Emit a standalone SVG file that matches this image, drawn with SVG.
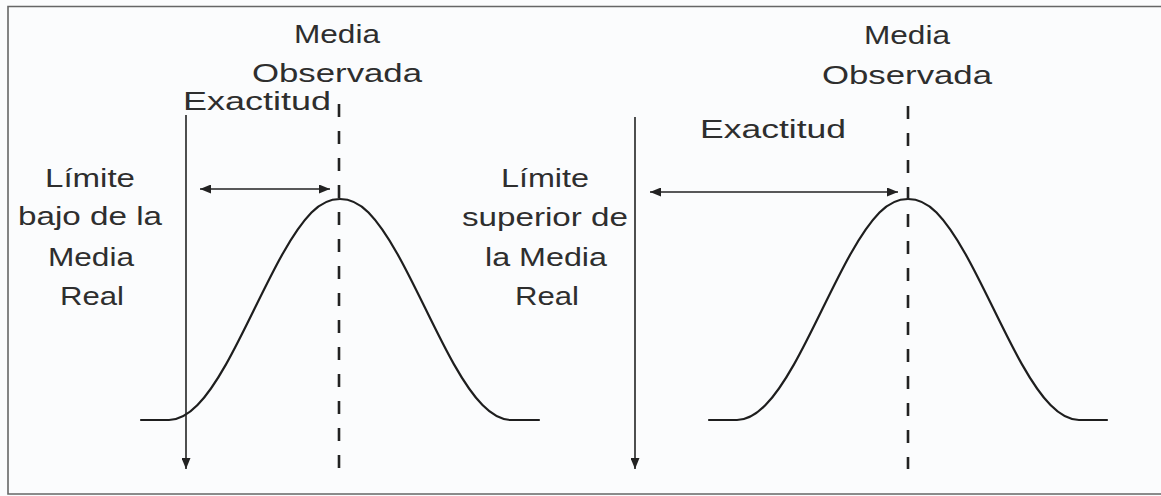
<svg xmlns="http://www.w3.org/2000/svg" xmlns:xlink="http://www.w3.org/1999/xlink" width="1161" height="496" viewBox="0 0 1161 496">
  <style>
    .txt { font-family: "Liberation Sans", Arial, sans-serif; font-size: 26px; fill: #2e2e2e; }
    .mid { text-anchor: middle; }
    .ln { stroke: #222; stroke-width: 1.6; fill: none; }
    .dash { stroke: #222; stroke-width: 2.6; fill: none; stroke-dasharray: 13 14; }
    .bell { stroke: #1e1e1e; stroke-width: 2.2; fill: none; stroke-linecap: round; }
    .frame { stroke: #666; stroke-width: 1.6; fill: none; }
  </style>
  <defs>
    <marker id="ah" viewBox="0 0 11 9" refX="11" refY="4.5" markerWidth="11" markerHeight="9" markerUnits="userSpaceOnUse" orient="auto-start-reverse">
      <path d="M0,0 L11,4.5 L0,9 z" fill="#222"/>
    </marker>
    <path id="bellshape" class="bell" d="M-199,420 L-171,420 C-161.5,420 -152,414.8 -142.5,405.1 C-133,395.4 -123.5,381.2 -114,364.4 C-104.5,347.6 -95,328.2 -85.5,308.8 C-76,289.4 -66.5,270 -57,253.2 C-47.5,236.4 -38,222.2 -28.5,212.5 C-19,202.8 -9.5,199 0,199 C9.5,199 19,202.8 28.5,212.5 C38,222.2 47.5,236.4 57,253.2 C66.5,270 76,289.4 85.5,308.8 C95,328.2 104.5,347.6 114,364.4 C123.5,381.2 133,395.4 142.5,405.1 C152,414.8 161.5,420 171,420 L199,420"/>
  </defs>
  <rect x="0" y="0" width="1161" height="496" fill="#fbfcfd"/>
  <g id="frame">
    <path class="frame" d="M1161,6.5 H8 V494 H1161"/>
  </g>
  <g id="curves">
    <use id="curve-left" xlink:href="#bellshape" href="#bellshape" x="340" y="0"/>
    <use id="curve-right" xlink:href="#bellshape" href="#bellshape" x="908" y="0"/>
  </g>
  <g id="connectors">
    <line class="ln" x1="186" y1="115" x2="186" y2="469" marker-end="url(#ah)"/>
    <line class="ln" x1="635" y1="117" x2="635" y2="469" marker-end="url(#ah)"/>
    <line class="ln" x1="200" y1="189" x2="330" y2="189" marker-start="url(#ah)" marker-end="url(#ah)"/>
    <line class="ln" x1="650" y1="192" x2="898" y2="192" marker-start="url(#ah)" marker-end="url(#ah)"/>
    <line class="dash" x1="339" y1="104" x2="339" y2="469"/>
    <line class="dash" x1="908" y1="106" x2="908" y2="469"/>
  </g>
  <g id="label-media-observada-left">
    <text class="txt mid" x="337" y="43" textLength="86" lengthAdjust="spacingAndGlyphs">Media</text>
    <text class="txt mid" x="337" y="82" textLength="170" lengthAdjust="spacingAndGlyphs">Observada</text>
  </g>
  <g id="label-exactitud-left">
    <text class="txt" x="183" y="110" textLength="148" lengthAdjust="spacingAndGlyphs">Exactitud</text>
  </g>
  <g id="label-limite-bajo">
    <text class="txt mid" x="90" y="187" textLength="90" lengthAdjust="spacingAndGlyphs">Límite</text>
    <text class="txt mid" x="90" y="225" textLength="144" lengthAdjust="spacingAndGlyphs">bajo de la</text>
    <text class="txt mid" x="91" y="266" textLength="86" lengthAdjust="spacingAndGlyphs">Media</text>
    <text class="txt mid" x="92" y="305" textLength="64" lengthAdjust="spacingAndGlyphs">Real</text>
  </g>
  <g id="label-media-observada-right">
    <text class="txt mid" x="907" y="44" textLength="86" lengthAdjust="spacingAndGlyphs">Media</text>
    <text class="txt mid" x="907" y="84" textLength="170" lengthAdjust="spacingAndGlyphs">Observada</text>
  </g>
  <g id="label-exactitud-right">
    <text class="txt" x="700" y="138" textLength="146" lengthAdjust="spacingAndGlyphs">Exactitud</text>
  </g>
  <g id="label-limite-superior">
    <text class="txt mid" x="545" y="187" textLength="88" lengthAdjust="spacingAndGlyphs">Límite</text>
    <text class="txt mid" x="545" y="226" textLength="166" lengthAdjust="spacingAndGlyphs">superior de</text>
    <text class="txt mid" x="546" y="266" textLength="122" lengthAdjust="spacingAndGlyphs">la Media</text>
    <text class="txt mid" x="547" y="305" textLength="64" lengthAdjust="spacingAndGlyphs">Real</text>
  </g>
</svg>
